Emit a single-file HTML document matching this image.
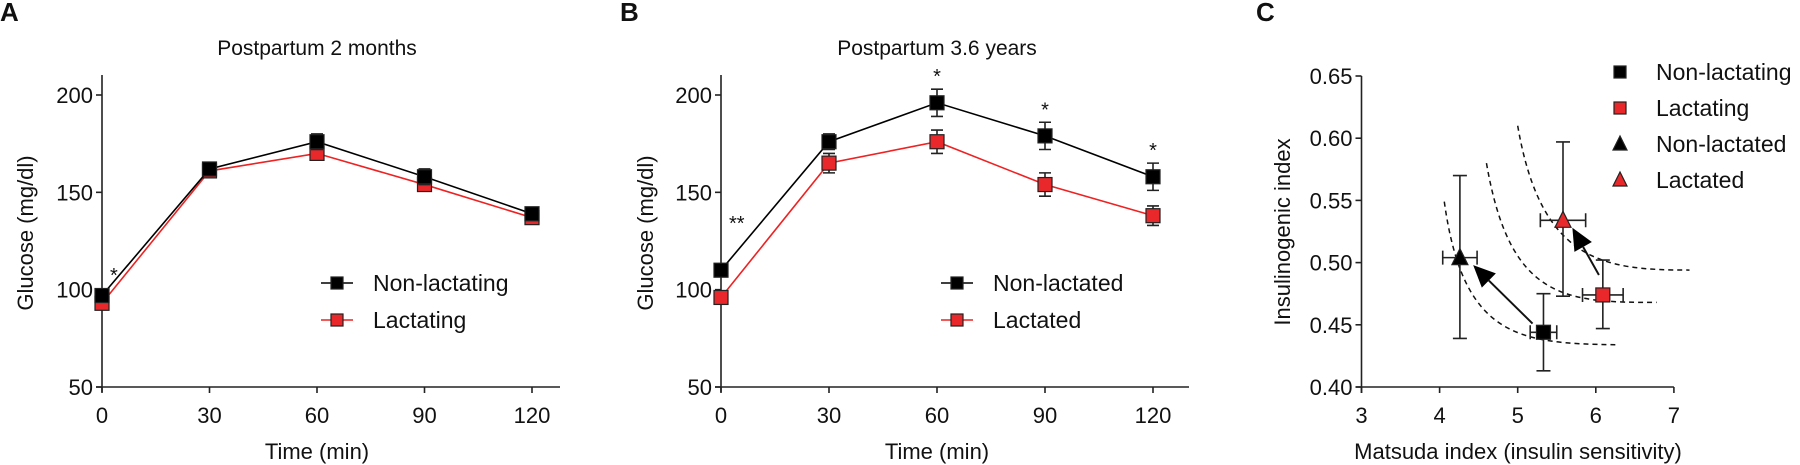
<!DOCTYPE html>
<html><head><meta charset="utf-8"><style>
html,body{margin:0;padding:0;background:#fff;width:1800px;height:465px;overflow:hidden}
svg text{font-family:"Liberation Sans",sans-serif;fill:#111}
</style></head><body>
<svg id="fig" width="1800" height="465" viewBox="0 0 1800 465" xmlns="http://www.w3.org/2000/svg"></svg>
<script>
const timeCats = [0, 30, 60, 90, 120];
const glucoseTicks = [50, 100, 150, 200];
const aNonLact = [97, 162, 176, 158, 139];
const aNonLactErr = [3, 3, 4, 4, 3];
const aLact = [93, 161, 170, 154, 137];
const aLactErr = [3, 2, 3, 3, 2];
const bNonLact = [110, 176, 196, 179, 158];
const bNonLactErr = [3, 4, 7, 7, 7];
const bLact = [96, 165, 176, 154, 138];
const bLactErr = [3, 5, 6, 6, 5];
const aStars = ["*", "", "", "", ""];
const bStars = ["**", "", "*", "*", "*"];
const cXTicks = [3, 4, 5, 6, 7];
const cYTicks = [0.40, 0.45, 0.50, 0.55, 0.60, 0.65];
const cLabels = ["Non-lactating", "Lactating", "Non-lactated", "Lactated"];
const cX = [5.33, 6.09, 4.26, 5.58];
const cY = [0.444, 0.474, 0.504, 0.534];
const cXErr = [0.17, 0.26, 0.22, 0.29];
const cYLo = [0.413, 0.447, 0.439, 0.473];
const cYHi = [0.475, 0.502, 0.570, 0.597];
const cArrowFrom = [[5.19, 0.451], [6.04, 0.490]];
const cArrowTo = [[4.43, 0.498], [5.70, 0.528]];
const cCurves = [
  [[4.06,0.549],[4.3,0.44],[5.0,0.435],[6.25,0.434]],
  [[4.6,0.58],[4.9,0.47],[5.6,0.468],[6.78,0.468]],
  [[5.0,0.61],[5.3,0.50],[6.1,0.494],[7.2,0.494]]
];

const NS = "http://www.w3.org/2000/svg";
const svg = document.getElementById("fig");
function mk(tag, attrs, parent, text) {
  const e = document.createElementNS(NS, tag);
  for (const k in attrs) e.setAttribute(k, attrs[k]);
  if (text !== undefined) e.textContent = text;
  (parent || svg).appendChild(e);
  return e;
}
function txt(x, y, s, size, anchor, parent, extra) {
  const a = {x: x, y: y, "font-size": size, "text-anchor": anchor || "middle"};
  if (extra) for (const k in extra) a[k] = extra[k];
  return mk("text", a, parent, s);
}

function lineChart(opts) {
  const g = mk("g", {});
  
  
  const x0 = opts.x0, x1 = opts.x120;
  const xs = v => x0 + (v - 0) / 120 * (x1 - x0);
  const ys = v => 387 - (v - 50) / 150 * 292;
  // axes
  const ax = mk("g", {}, g);
  
  
  mk("line", {x1: x0, y1: 75, x2: x0, y2: 392, stroke: "#222", "stroke-width": 1.6}, ax);
  mk("line", {x1: x0 - 6, y1: 387, x2: opts.xEnd, y2: 387, stroke: "#222", "stroke-width": 1.6}, ax);
  glucoseTicks.forEach(t => {
    mk("line", {x1: x0 - 6, y1: ys(t), x2: x0, y2: ys(t), stroke: "#222", "stroke-width": 1.6}, ax);
    const l = txt(x0 - 9, ys(t) + 8, t, 22, "end", ax);
    
    
  });
  timeCats.forEach(t => {
    mk("line", {x1: xs(t), y1: 387, x2: xs(t), y2: 393, stroke: "#222", "stroke-width": 1.6}, ax);
    const l = txt(xs(t), 423, t, 22, "middle", ax);
    
    
  });
  const yt = txt(0, 0, "Glucose (mg/dl)", 22, "middle", g, {transform: `translate(${opts.ylabX},233) rotate(-90)`});
  
  
  const xt = txt((x0 + x1) / 2, 459, "Time (min)", 22, "middle", g);
  
  
  const tt = txt((x0 + x1) / 2, 55, opts.title, 21, "middle", g);
  
  
  const pl = txt(opts.letterX, 21, opts.letter, 26, "start", g, {"font-weight": "bold"});
  
  

  const series = [
    {vals: opts.red, err: opts.redErr, color: "#e8282a", line: "#ee2222", name: "series-red"},
    {vals: opts.black, err: opts.blackErr, color: "#000", line: "#000", name: "series-black"}
  ];
  series.forEach(s => {
    const sg = mk("g", {}, g);
    
    
    mk("polyline", {points: timeCats.map((t, i) => xs(t) + "," + ys(s.vals[i])).join(" "), fill: "none", stroke: s.line, "stroke-width": 1.6}, sg);
    timeCats.forEach((t, i) => {
      const cx = xs(t), lo = ys(s.vals[i] - s.err[i]), hi = ys(s.vals[i] + s.err[i]);
      mk("path", {d: `M${cx},${lo}V${hi}M${cx-6},${lo}H${cx+6}M${cx-6},${hi}H${cx+6}`, stroke: "#222", "stroke-width": 1.6, fill: "none"}, sg);
      const r = mk("rect", {x: cx - 7, y: ys(s.vals[i]) - 7, width: 14, height: 14, fill: s.color, stroke: "#222", "stroke-width": 1.2}, sg);
      
      
    });
  });
  opts.stars.forEach((s, i) => {
    if (!s) return;
    const top = Math.max(opts.black[i] + opts.blackErr[i], opts.red[i] + opts.redErr[i]);
    const st = txt(xs(timeCats[i]) + (i === 0 ? 8 : 0), i === 0 ? opts.star0Y : ys(top) - 6, s, 20, i === 0 ? "start" : "middle", g);
    
    
  });
  // legend
  const lg = mk("g", {}, g);
  
  
  [[opts.legBlack, "#000", "#000", 283], [opts.legRed, "#e8282a", "#ee2222", 320]].forEach(L => {
    const e = mk("g", {}, lg);
    
    
    mk("line", {x1: opts.legX - 16, y1: L[3], x2: opts.legX + 16, y2: L[3], stroke: L[2], "stroke-width": 1.6}, e);
    mk("rect", {x: opts.legX - 6, y: L[3] - 6, width: 12, height: 12, fill: L[1], stroke: "#222", "stroke-width": 1.2}, e);
    txt(opts.legX + 36, L[3] + 8, L[0], 23, "start", e);
  });
}

lineChart({name: "panel-a-chart", x0: 102, x120: 532, xEnd: 560, ylabX: 33, title: "Postpartum 2 months", letter: "A", letterX: 0,
  black: aNonLact, blackErr: aNonLactErr, red: aLact, redErr: aLactErr, stars: aStars, star0Y: 282,
  legX: 337, legBlack: "Non-lactating", legRed: "Lactating"});
lineChart({name: "panel-b-chart", x0: 721, x120: 1153, xEnd: 1189, ylabX: 653, title: "Postpartum 3.6 years", letter: "B", letterX: 620,
  black: bNonLact, blackErr: bNonLactErr, red: bLact, redErr: bLactErr, stars: bStars, star0Y: 230,
  legX: 957, legBlack: "Non-lactated", legRed: "Lactated"});

// Panel C
(function () {
  const g = mk("g", {});
  
  
  const xs = v => 1361.5 + (v - 3) * 78.1;
  const ys = v => 387 - (v - 0.40) / 0.25 * 311;
  const ax = mk("g", {}, g);
  
  
  mk("line", {x1: xs(3), y1: ys(0.65), x2: xs(3), y2: 393, stroke: "#222", "stroke-width": 1.6}, ax);
  mk("line", {x1: xs(3) - 6, y1: 387, x2: xs(7), y2: 387, stroke: "#222", "stroke-width": 1.6}, ax);
  cYTicks.forEach(t => {
    mk("line", {x1: xs(3) - 6, y1: ys(t), x2: xs(3), y2: ys(t), stroke: "#222", "stroke-width": 1.6}, ax);
    const l = txt(xs(3) - 9, ys(t) + 8, t.toFixed(2), 22, "end", ax);
    
    
  });
  cXTicks.forEach(t => {
    mk("line", {x1: xs(t), y1: 387, x2: xs(t), y2: 393, stroke: "#222", "stroke-width": 1.6}, ax);
    const l = txt(xs(t), 423, t, 22, "middle", ax);
    
    
  });
  const yt = txt(0, 0, "Insulinogenic index", 22, "middle", g, {transform: "translate(1290,232) rotate(-90)"});
  
  
  const xt = txt(1518, 459, "Matsuda index (insulin sensitivity)", 22, "middle", g);
  
  
  const pl = txt(1256, 21, "C", 26, "start", g, {"font-weight": "bold"});
  
  

  cCurves.forEach(c => {
    const p = c.map(q => xs(q[0]) + "," + ys(q[1]));
    const cv = mk("path", {d: `M${p[0]} C${p[1]} ${p[2]} ${p[3]}`, fill: "none", stroke: "#111", "stroke-width": 1.5, "stroke-dasharray": "5,4"}, g);
    
    
  });
  cArrowFrom.forEach((f, i) => {
    const t = cArrowTo[i];
    const x1 = xs(f[0]), y1 = ys(f[1]), x2 = xs(t[0]), y2 = ys(t[1]);
    const ang = Math.atan2(y2 - y1, x2 - x1), L = 22, W = 10;
    const bx = x2 - L * Math.cos(ang), by = y2 - L * Math.sin(ang);
    const ag = mk("g", {}, g);
    
    
    mk("line", {x1: x1, y1: y1, x2: bx, y2: by, stroke: "#111", "stroke-width": 2}, ag);
    mk("polygon", {points: `${x2},${y2} ${bx + W * Math.sin(ang)},${by - W * Math.cos(ang)} ${bx - W * Math.sin(ang)},${by + W * Math.cos(ang)}`, fill: "#000"}, ag);
  });
  const fills = ["#000", "#e8282a", "#000", "#e8282a"];
  const shapes = ["sq", "sq", "tri", "tri"];
  function marker(shape, cx, cy, fill, parent, s) {
    if (shape === "sq") return mk("rect", {x: cx - s, y: cy - s, width: 2 * s, height: 2 * s, fill: fill, stroke: "#222", "stroke-width": 1.2}, parent);
    return mk("polygon", {points: `${cx},${cy - s - 2} ${cx - s - 1},${cy + s} ${cx + s + 1},${cy + s}`, fill: fill, stroke: "#222", "stroke-width": 1.2}, parent);
  }
  cX.forEach((x, i) => {
    const pg = mk("g", {}, g);
    
    
    const cx = xs(x), cy = ys(cY[i]), lo = ys(cYLo[i]), hi = ys(cYHi[i]);
    const xl = xs(x - cXErr[i]), xr = xs(x + cXErr[i]);
    mk("path", {d: `M${cx},${lo}V${hi}M${cx-7},${lo}H${cx+7}M${cx-7},${hi}H${cx+7}M${xl},${cy}H${xr}M${xl},${cy-7}V${cy+7}M${xr},${cy-7}V${cy+7}`, stroke: "#222", "stroke-width": 1.6, fill: "none"}, pg);
    marker(shapes[i], cx, cy, fills[i], pg, 7);
  });
  const lg = mk("g", {}, g);
  
  
  const legY = [72, 108, 144, 180];
  cLabels.forEach((lab, i) => {
    const e = mk("g", {}, lg);
    
    
    marker(shapes[i], 1620, legY[i], fills[i], e, 6);
    txt(1656, legY[i] + 8, lab, 23, "start", e);
  });
})();
</script>
</body></html>
